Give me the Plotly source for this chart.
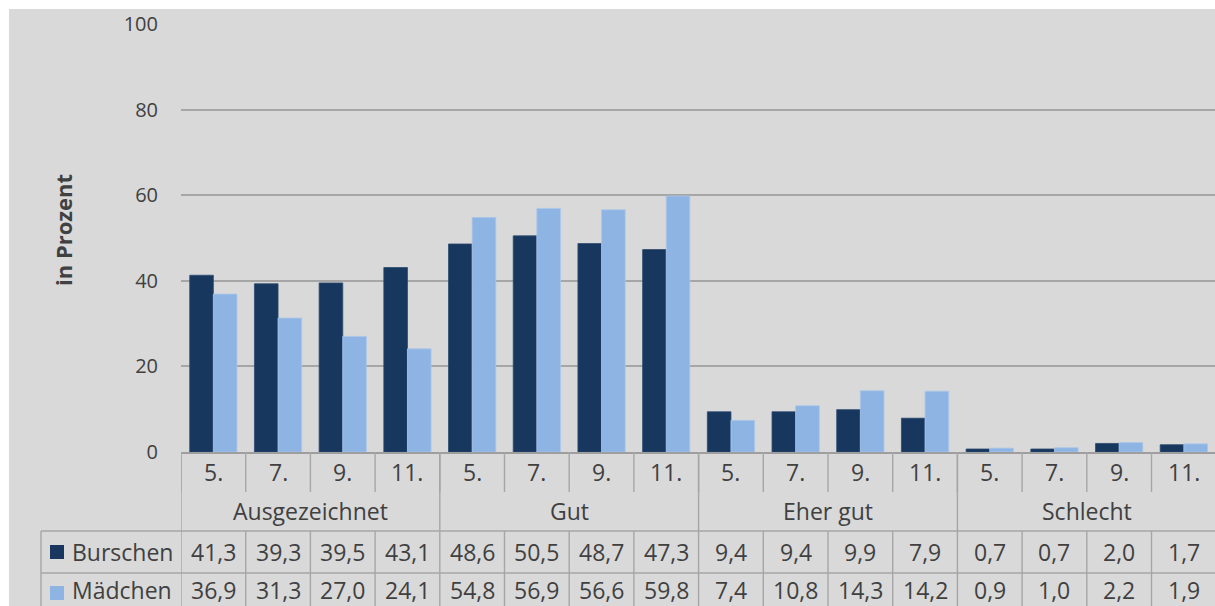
import plotly.graph_objects as go

# ---- data ----
groups = ["Ausgezeichnet", "Gut", "Eher gut", "Schlecht"]
grades = ["5.", "7.", "9.", "11."]
series_names = ["Burschen", "Mädchen"]
burschen = [41.3, 39.3, 39.5, 43.1, 48.6, 50.5, 48.7, 47.3, 9.4, 9.4, 9.9, 7.9, 0.7, 0.7, 2.0, 1.7]
maedchen = [36.9, 31.3, 27.0, 24.1, 54.8, 56.9, 56.6, 59.8, 7.4, 10.8, 14.3, 14.2, 0.9, 1.0, 2.2, 1.9]
y_ticks = [0, 20, 40, 60, 80, 100]

# ---- style ----
DARK = "#17375e"
LIGHT = "#8eb4e3"
BG = "#d9d9d9"
GRID = "#a6a6a6"
TXT = "#404040"
FONT = "Open Sans"

W, H = 1215, 606
L, R, T = 181, 0, 24
B = H - 452
PW, PH = W - L - R, H - T - B


def px(x):
    """screen x pixel -> paper x"""
    return (x - L) / PW


def py(y):
    """screen y pixel -> paper y"""
    return (H - B - y) / PH


n = len(burschen)
xs = list(range(n))
sub_labels = [g for _ in groups for g in grades]

fig = go.Figure()
fig.add_trace(go.Bar(x=xs, y=burschen, name=series_names[0], marker_color=DARK,
                     marker_line=dict(color="#2c4a70", width=0.8)))
fig.add_trace(go.Bar(x=xs, y=maedchen, name=series_names[1], marker_color=LIGHT,
                     marker_line=dict(color="#a9c6ea", width=0.8)))

span = PW / 64.7
fig.update_layout(
    width=W, height=H,
    margin=dict(l=L, r=R, t=T, b=B, pad=0),
    paper_bgcolor=BG, plot_bgcolor=BG,
    barmode="group", bargap=0.27, bargroupgap=0,
    showlegend=False,
    font=dict(family=FONT, color=TXT),
    xaxis=dict(range=[-0.5, -0.5 + span], showticklabels=False, showgrid=False,
               zeroline=False, showline=True, linecolor="#9e9e9e", linewidth=2,
               ticks=""),
    yaxis=dict(range=[0, 100], tickvals=y_ticks, showgrid=True, gridcolor=GRID,
               gridwidth=1.5, zeroline=False, showline=False, ticks="",
               ticklabelstandoff=22, tickfont=dict(size=20, color=TXT, family=FONT)),
)

shapes = []
# white border at top/left
shapes.append(dict(type="rect", xref="paper", yref="paper", x0=px(-5), x1=px(9),
                   y0=py(620), y1=py(-5), fillcolor="white", line_width=0, layer="above"))
shapes.append(dict(type="rect", xref="paper", yref="paper", x0=px(-5), x1=px(1230),
                   y0=py(9), y1=py(-5), fillcolor="white", line_width=0, layer="above"))

LC = "#a6a6a6"
LW = 1.4
# subcategory separators
for i in range(n + 1):
    shapes.append(dict(type="line", xref="x", yref="paper", x0=i - 0.5, x1=i - 0.5,
                       y0=py(452), y1=py(492), line=dict(color=LC, width=LW)))
    shapes.append(dict(type="line", xref="x", yref="paper", x0=i - 0.5, x1=i - 0.5,
                       y0=py(531), y1=py(620), line=dict(color=LC, width=LW)))
# group separators
for g in range(len(groups) + 1):
    xg = g * len(grades) - 0.5
    shapes.append(dict(type="line", xref="x", yref="paper", x0=xg, x1=xg,
                       y0=py(452), y1=py(531), line=dict(color=LC, width=LW)))
# horizontal lines for data rows
for yy in (531, 573):
    shapes.append(dict(type="line", xref="paper", yref="paper", x0=px(41), x1=px(1230),
                       y0=py(yy), y1=py(yy), line=dict(color=LC, width=LW)))
# legend column left border
shapes.append(dict(type="line", xref="paper", yref="paper", x0=px(41), x1=px(41),
                   y0=py(531), y1=py(620), line=dict(color=LC, width=LW)))
# legend keys
for color, yy in ((DARK, 552), (LIGHT, 593)):
    shapes.append(dict(type="rect", xref="paper", yref="paper", x0=px(50), x1=px(64),
                       y0=py(yy + 7), y1=py(yy - 7), fillcolor=color, line_width=0))

annotations = []
FS = 23


def ann(x, y, text, xref="x", xanchor="center", size=FS, **kw):
    annotations.append(dict(x=x, y=y, xref=xref, yref="paper", text=text,
                            xanchor=xanchor, yanchor="middle", showarrow=False,
                            font=dict(size=size, color=TXT, family=FONT), **kw))


for i, lab in enumerate(sub_labels):
    ann(i, py(472), lab)
for g, name in enumerate(groups):
    ann(g * len(grades) + (len(grades) - 1) / 2, py(511), name)
for vals, yy in ((burschen, 552), (maedchen, 590)):
    for i, v in enumerate(vals):
        ann(i, py(yy), f"{v:.1f}".replace(".", ","))
for name, yy in zip(series_names, (552, 590)):
    ann(px(70), py(yy), name, xref="paper", xanchor="left")
ann(px(63), py(230), "<b>in Prozent</b>", xref="paper", size=22, textangle=-90)

fig.update_layout(shapes=shapes, annotations=annotations)
fig.write_html(
    "out.html",
    config={"displayModeBar": False},
    post_script="document.body.style.margin='0';document.body.style.overflow='hidden';",
)
